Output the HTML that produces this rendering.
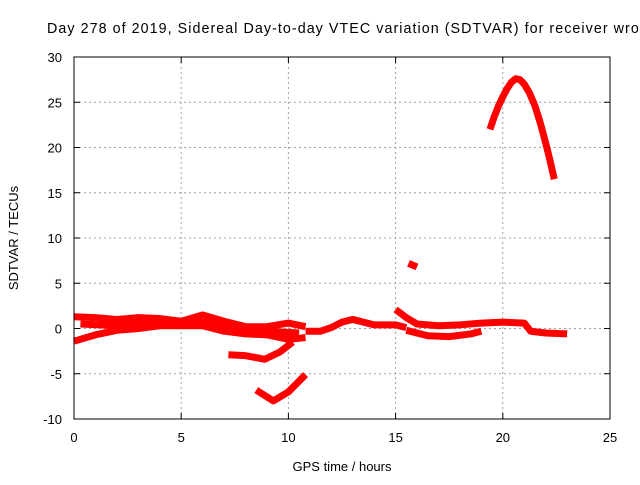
<!DOCTYPE html>
<html><head><meta charset="utf-8"><style>
body{margin:0;background:#fff;width:640px;height:480px;overflow:hidden}
svg text{font-family:"Liberation Sans",sans-serif;font-size:13px;fill:#000}
</style></head><body>
<svg width="640" height="480">
<text x="47" y="33" style="font-size:14.3px" textLength="600" lengthAdjust="spacing">Day 278 of 2019, Sidereal Day-to-day VTEC variation (SDTVAR) for receiver wroc</text>
<g id="grid"></g>
<g id="ticks"></g>
<g id="series"></g>
<rect x="74" y="57" width="536" height="362" fill="none" stroke="#000" stroke-width="1"/>
<text x="342" y="471" text-anchor="middle">GPS time / hours</text>
<text transform="translate(18,238) rotate(-90)" text-anchor="middle">SDTVAR / TECUs</text>
</svg>
<script>
const xTicks=[0,5,10,15,20,25];
const yTicks=[-10,-5,0,5,10,15,20,25,30];
const s1=[[0,1.3],[1,1.2],[2,1.0],[3,1.2],[4,1.1],[5,0.8],[6,1.5],[7,0.8],[8,0.2],[9,0.2],[10,0.6],[10.8,0.2]];
const s2=[[0,-1.4],[1,-0.7],[2,-0.2],[3,0],[4,0.3],[5,0.3],[6,0.3],[7,-0.3],[8,-0.6],[9,-0.7],[10,-1.2],[10.8,-1.0]];
const s3=[[0.3,0.5],[2,0.3],[4,0.6],[6,0.7],[7.5,0.2],[9,-0.3],[10.5,-0.5]];
const s4=[[7.2,-2.9],[8,-3.0],[8.9,-3.4],[9.6,-2.6],[10.2,-1.5]];
const s5=[[8.5,-6.8],[9.3,-8],[10,-7],[10.8,-5.1]];
const s6=[[10.8,-0.3],[11.5,-0.3],[12,0.1],[12.5,0.7],[13,1.0],[13.5,0.7],[14,0.4],[15,0.4],[15.5,0.1]];
const s7=[[15,2.1],[15.5,1.2],[16,0.5],[17,0.3],[18,0.4],[19,0.6],[20,0.7],[21,0.6],[21.3,-0.3],[22,-0.5],[23,-0.6]];
const s8=[[15.5,-0.2],[16.5,-0.8],[17.5,-0.9],[18.5,-0.6],[19,-0.3]];
const s9=[[15.6,7.2],[16,6.8]];
const s10=[[19.4,22],[19.6,23.4],[19.8,24.6],[20,25.6],[20.2,26.5],[20.4,27.2],[20.6,27.6],[20.8,27.5],[21,27],[21.25,26],[21.5,24.6],[21.75,22.7],[22,20.5],[22.2,18.6],[22.4,16.5]];
const allSeries=[s1,s2,s3,s4,s5,s6,s7,s8,s9,s10];
const X=h=>74+h*536/25, Y=v=>419-(v+10)*362/40;
const NS='http://www.w3.org/2000/svg';
const grid=document.getElementById('grid'),ticks=document.getElementById('ticks'),ser=document.getElementById('series');
function mk(tag,at,parent){const e=document.createElementNS(NS,tag);for(const k in at)e.setAttribute(k,at[k]);parent.appendChild(e);return e;}
xTicks.forEach(t=>{
 const x=X(t);
 if(t>0&&t<25){const l=mk('line',{x1:x,x2:x,y1:57,y2:419,stroke:'#a0a0a0','stroke-dasharray':'2,3'},grid);
 
 }
 mk('line',{x1:x,x2:x,y1:419,y2:413,stroke:'#000'},ticks);
 mk('line',{x1:x,x2:x,y1:57,y2:63,stroke:'#000'},ticks);
 const tx=mk('text',{x:x,y:442,'text-anchor':'middle'},ticks);tx.textContent=t;
 
 
});
yTicks.forEach(t=>{
 const y=Y(t);
 if(t>-10&&t<30){const l=mk('line',{x1:74,x2:610,y1:y,y2:y,stroke:'#a0a0a0','stroke-dasharray':'2,3'},grid);
 
 }
 mk('line',{x1:74,x2:80,y1:y,y2:y,stroke:'#000'},ticks);
 mk('line',{x1:610,x2:604,y1:y,y2:y,stroke:'#000'},ticks);
 const tx=mk('text',{x:62,y:y+5,'text-anchor':'end'},ticks);tx.textContent=t;
 
 
});
allSeries.forEach((s,i)=>{
 const p=mk('polyline',{points:s.map(d=>X(d[0])+','+Y(d[1])).join(' '),fill:'none',stroke:'#ff0000','stroke-width':7,'stroke-linejoin':'round','stroke-linecap':'butt'},ser);
 
 
});
</script>
</body></html>
